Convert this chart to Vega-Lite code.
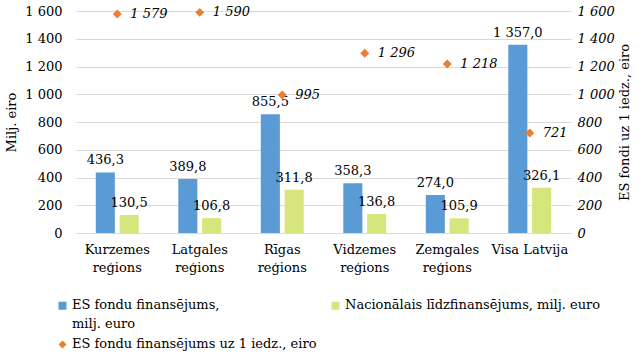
{
  "$schema": "https://vega.github.io/schema/vega-lite/v6.json",
  "width": 495,
  "height": 222,
  "padding": {"left": 5, "top": 5, "right": 5, "bottom": 5},
  "config": {
    "locale": {"number": {"decimal": ",", "thousands": " ", "grouping": [3], "currency": ["", ""]}},
    "view": {"stroke": null},
    "axis": {
      "labelFont": "DejaVu Serif",
      "titleFont": "DejaVu Serif",
      "labelFontSize": 13,
      "titleFontSize": 13,
      "labelColor": "#000000",
      "titleColor": "#000000",
      "titleFontWeight": "normal",
      "ticks": false,
      "domain": false,
      "gridColor": "#D9D9D9"
    },
    "legend": {
      "labelFont": "DejaVu Serif",
      "labelFontSize": 13,
      "labelColor": "#000000"
    }
  },
  "data": {
    "values": [
      {"region": "Kurzemes reģions", "series": "ES fondu finansējums, milj. euro", "value": 436.3},
      {"region": "Kurzemes reģions", "series": "Nacionālais līdzfinansējums, milj. euro", "value": 130.5},
      {"region": "Kurzemes reģions", "series": "ES fondu finansējums uz 1 iedz., eiro", "value": 1579},
      {"region": "Latgales reģions", "series": "ES fondu finansējums, milj. euro", "value": 389.8},
      {"region": "Latgales reģions", "series": "Nacionālais līdzfinansējums, milj. euro", "value": 106.8},
      {"region": "Latgales reģions", "series": "ES fondu finansējums uz 1 iedz., eiro", "value": 1590},
      {"region": "Rīgas reģions", "series": "ES fondu finansējums, milj. euro", "value": 855.5},
      {"region": "Rīgas reģions", "series": "Nacionālais līdzfinansējums, milj. euro", "value": 311.8},
      {"region": "Rīgas reģions", "series": "ES fondu finansējums uz 1 iedz., eiro", "value": 995},
      {"region": "Vidzemes reģions", "series": "ES fondu finansējums, milj. euro", "value": 358.3},
      {"region": "Vidzemes reģions", "series": "Nacionālais līdzfinansējums, milj. euro", "value": 136.8},
      {"region": "Vidzemes reģions", "series": "ES fondu finansējums uz 1 iedz., eiro", "value": 1296},
      {"region": "Zemgales reģions", "series": "ES fondu finansējums, milj. euro", "value": 274.0},
      {"region": "Zemgales reģions", "series": "Nacionālais līdzfinansējums, milj. euro", "value": 105.9},
      {"region": "Zemgales reģions", "series": "ES fondu finansējums uz 1 iedz., eiro", "value": 1218},
      {"region": "Visa Latvija", "series": "ES fondu finansējums, milj. euro", "value": 1357.0},
      {"region": "Visa Latvija", "series": "Nacionālais līdzfinansējums, milj. euro", "value": 326.1},
      {"region": "Visa Latvija", "series": "ES fondu finansējums uz 1 iedz., eiro", "value": 721}
    ]
  },
  "encoding": {
    "x": {
      "field": "region",
      "type": "nominal",
      "sort": null,
      "scale": {"paddingInner": 0.48, "paddingOuter": 0.24},
      "axis": {
        "title": null,
        "labelAngle": 0,
        "labelPadding": 10,
        "labelLineHeight": 18,
        "labelBaseline": "top",
        "domain": true,
        "domainColor": "#D9D9D9",
        "labelExpr": "datum.value == 'Visa Latvija' ? datum.value : split(datum.value, ' ')"
      }
    }
  },
  "layer": [
    {
      "transform": [{"filter": "datum.series != 'ES fondu finansējums uz 1 iedz., eiro'"}],
      "encoding": {
        "xOffset": {
          "field": "series",
          "type": "nominal",
          "sort": ["ES fondu finansējums, milj. euro", "Nacionālais līdzfinansējums, milj. euro"],
          "scale": {"paddingInner": 0.2, "paddingOuter": 0}
        },
        "y": {
          "field": "value",
          "type": "quantitative",
          "scale": {"domain": [0, 1600]},
          "axis": {
            "title": "Milj. eiro",
            "orient": "left",
            "values": [0, 200, 400, 600, 800, 1000, 1200, 1400, 1600],
            "format": ",d",
            "grid": true,
            "labelPadding": 14,
            "titlePadding": 6
          }
        }
      },
      "layer": [
        {
          "mark": {"type": "bar"},
          "encoding": {
            "color": {
              "field": "series",
              "type": "nominal",
              "scale": {
                "domain": ["ES fondu finansējums, milj. euro", "Nacionālais līdzfinansējums, milj. euro", "ES fondu finansējums uz 1 iedz., eiro"],
                "range": ["#5B9BD5", "#D6E57C", "#ED7D31"]
              },
              "legend": {
                "title": null,
                "orient": "none",
                "direction": "horizontal",
                "columns": 2,
                "legendX": -20,
                "legendY": 288,
                "columnPadding": 12,
                "rowPadding": 6,
                "symbolSize": 64,
                "symbolType": "square",
                "labelOffset": 3,
                "labelLimit": 400,
                "labelBaseline": "top",
                "labelExpr": "datum.label == 'ES fondu finansējums, milj. euro' ? ['ES fondu finansējums,', 'milj. euro'] : (datum.label == 'Nacionālais līdzfinansējums, milj. euro' ? [datum.label, ' '] : datum.label)",
                "encode": {
                  "symbols": {
                    "update": {
                      "shape": {"signal": "datum.value == 'ES fondu finansējums uz 1 iedz., eiro' ? 'diamond' : 'square'"}
                    }
                  },
                  "labels": {"update": {"lineHeight": {"value": 19}, "dy": {"value": -7}}}
                }
              }
            }
          }
        },
        {
          "mark": {"type": "text", "baseline": "bottom", "dy": -5, "font": "DejaVu Serif", "fontSize": 13, "color": "#000000"},
          "encoding": {
            "text": {"field": "value", "type": "quantitative", "format": ",.1f"}
          }
        }
      ]
    },
    {
      "transform": [{"filter": "datum.series == 'ES fondu finansējums uz 1 iedz., eiro'"}],
      "encoding": {
        "y": {
          "field": "value",
          "type": "quantitative",
          "scale": {"domain": [0, 1600]},
          "axis": {
            "title": "ES fondi uz 1 iedz., eiro",
            "orient": "right",
            "values": [0, 200, 400, 600, 800, 1000, 1200, 1400, 1600],
            "format": ",d",
            "grid": false,
            "labelFontStyle": "italic",
            "labelPadding": 6,
            "titlePadding": 4,
            "titleAngle": -90,
            "titleBaseline": "top"
          }
        }
      },
      "layer": [
        {
          "mark": {"type": "point", "shape": "diamond", "filled": true, "size": 80, "opacity": 1},
          "encoding": {
            "color": {"field": "series", "type": "nominal"}
          }
        },
        {
          "mark": {"type": "text", "align": "left", "baseline": "middle", "dx": 13, "fontStyle": "italic", "font": "DejaVu Serif", "fontSize": 13, "color": "#000000"},
          "encoding": {
            "text": {"field": "value", "type": "quantitative", "format": ",d"}
          }
        }
      ]
    }
  ],
  "resolve": {"scale": {"y": "independent"}}
}
